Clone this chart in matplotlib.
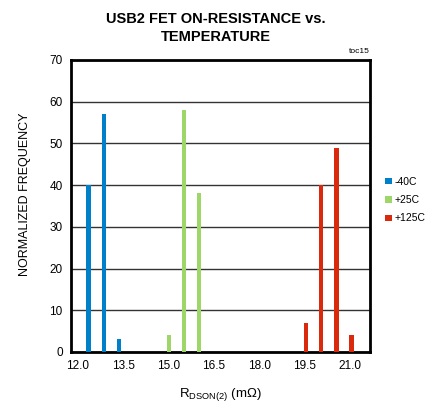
import matplotlib
matplotlib.use("Agg")
import matplotlib.pyplot as plt

plt.rcParams['font.family'] = ['Liberation Sans', 'DejaVu Sans']

series_names = ["-40C", "+25C", "+125C"]
colors = ["#0080c8", "#9ed66a", "#d92a0e"]
x_m40 = [12.35, 12.85, 13.35]
y_m40 = [40, 57, 3]
x_p25 = [15.0, 15.5, 16.0]
y_p25 = [4, 58, 38]
x_p125 = [19.55, 20.05, 20.55, 21.05]
y_p125 = [7, 40, 49, 4]
xticks = [12.0, 13.5, 15.0, 16.5, 18.0, 19.5, 21.0]
yticks = [0, 10, 20, 30, 40, 50, 60, 70]

fig = plt.figure(figsize=(4.32, 4.12), dpi=100)
ax = fig.add_axes([71/432, 1-352/412, 299/432, 292/412])

for xs, ys, c, n in zip([x_m40, x_p25, x_p125], [y_m40, y_p25, y_p125], colors, series_names):
    ax.bar(xs, ys, width=0.14, color=c, label=n, zorder=3)

ax.set_xlim(11.77, 21.66)
ax.set_ylim(0, 70)
ax.set_xticks(xticks)
ax.set_xticklabels([f"{t:.1f}" for t in xticks])
ax.set_yticks(yticks)
ax.tick_params(length=0, labelsize=8.5, pad=6)
ax.yaxis.grid(True, color="#333333", linewidth=1.0, zorder=0)
for s in ax.spines.values():
    s.set_linewidth(2)
    s.set_color("black")

ax.set_ylabel("NORMALIZED FREQUENCY", fontsize=9, labelpad=10)
ax.yaxis.set_label_coords(-0.135, 0.54)
ax.set_xlabel(r"R$_{\mathregular{DSON(2)}}$ (m$\mathregular{\Omega}$)", fontsize=9.5, labelpad=10)

fig.text(0.5, 0.97, "USB2 FET ON-RESISTANCE vs.\nTEMPERATURE", ha="center", va="top",
         fontsize=10.5, fontweight="bold", linespacing=1.3)
fig.text(370/432, 1-55/412, "toc15", ha="right", va="bottom", fontsize=6)

leg = ax.legend(loc="center left", bbox_to_anchor=(1.02, 0.52), frameon=False,
                fontsize=7.5, handlelength=0.6, handleheight=0.6, handletextpad=0.3,
                labelspacing=0.8)

fig.savefig("out.png", dpi=100)
